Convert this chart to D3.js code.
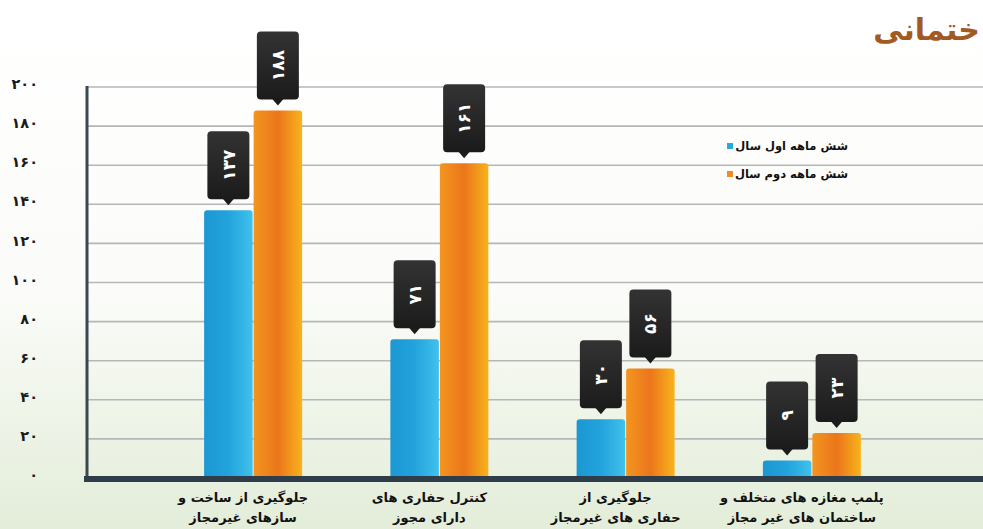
<!DOCTYPE html>
<html>
<head>
<meta charset="utf-8">
<script src="https://cdn.jsdelivr.net/npm/d3@7"></script>
<style>
  body { margin: 0; background: #fff; overflow: hidden; }
  text { font-family: "DejaVu Sans", sans-serif; font-weight: bold; }
</style>
</head>
<body>
<script>
// categories (x labels, two lines each)
var categories = [
  ["جلوگیری از ساخت و", "سازهای غیرمجاز"],
  ["کنترل حفاری های", "دارای مجوز"],
  ["جلوگیری از", "حفاری های غیرمجاز"],
  ["پلمپ مغازه های  متخلف و", "ساختمان های غیر مجاز"]
];
var series = ["شش ماهه اول سال", "شش ماهه دوم سال"];
var firstHalf = [137, 71, 30, 9];
var secondHalf = [188, 161, 56, 23];
var yTicks = [0, 20, 40, 60, 80, 100, 120, 140, 160, 180, 200];
var title = "ختمانی";

// persian digits
function fa(n) {
  return String(n).replace(/\d/g, function(c) { return "۰۱۲۳۴۵۶۷۸۹"[+c]; });
}

var w = 983, h = 529;

var svg = d3.select("body").append("svg")
  .attr("width", w)
  .attr("height", h);

var defs = svg.append("defs");

// background, white on top, light green below
var bg = defs.append("linearGradient").attr("id", "bg")
  .attr("x1", 0).attr("y1", 0).attr("x2", 0).attr("y2", 1);
bg.append("stop").attr("offset", "0%").attr("stop-color", "#ffffff");
bg.append("stop").attr("offset", "55%").attr("stop-color", "#fbfcf9");
bg.append("stop").attr("offset", "100%").attr("stop-color", "#e3edd9");

var blue = defs.append("linearGradient").attr("id", "blue");
blue.append("stop").attr("offset", "0%").attr("stop-color", "#1c97d3");
blue.append("stop").attr("offset", "50%").attr("stop-color", "#22a3dc");
blue.append("stop").attr("offset", "100%").attr("stop-color", "#41c1ec");

var orange = defs.append("linearGradient").attr("id", "orange");
orange.append("stop").attr("offset", "0%").attr("stop-color", "#f3951f");
orange.append("stop").attr("offset", "50%").attr("stop-color", "#eb761b");
orange.append("stop").attr("offset", "100%").attr("stop-color", "#f8b31b");

var tag = defs.append("linearGradient").attr("id", "tag")
  .attr("x1", 0).attr("y1", 0).attr("x2", 0).attr("y2", 1);
tag.append("stop").attr("offset", "0%").attr("stop-color", "#333333");
tag.append("stop").attr("offset", "100%").attr("stop-color", "#1b1b1b");

svg.append("rect").attr("width", w).attr("height", h).attr("fill", "url(#bg)");

var left = 87, right = 983;

// y scale
var y = d3.scaleLinear()
  .domain([0, 200])
  .range([478, 87]);

// groups
var x0 = d3.scaleBand()
  .domain(d3.range(categories.length))
  .range([160, 905]);

var x1 = d3.scaleBand()
  .domain([0, 1])
  .range([-49, 49])
  .paddingInner(0.02);

// grid lines
svg.append("g")
  .selectAll("line")
  .data(yTicks.slice(1))
  .enter()
  .append("line")
  .attr("x1", left).attr("x2", right)
  .attr("y1", d => y(d)).attr("y2", d => y(d))
  .attr("stroke", "#b5b7b6")
  .attr("stroke-width", 1.6);

// y axis labels
var yAxis = d3.axisLeft(y)
  .tickValues(yTicks)
  .tickSize(0)
  .tickFormat(fa);

var ya = svg.append("g")
  .attr("transform", "translate(38,-3)")
  .call(yAxis);
ya.select(".domain").remove();
ya.selectAll("text")
  .attr("x", 0)
  .attr("fill", "#1a1a1a")
  .style("font-size", "14.5px");

// left axis line
svg.append("line")
  .attr("x1", left).attr("x2", left)
  .attr("y1", y(200) - 1).attr("y2", y(0))
  .attr("stroke", "#3b4751")
  .attr("stroke-width", 3);

// legend
var legend = svg.append("g").attr("transform", "translate(727,145)");
var colors = ["#2aa8dc", "#f08a22"];
series.forEach(function(s, i) {
  var g = legend.append("g").attr("transform", "translate(0," + (i * 28) + ")");
  g.append("rect").attr("x", 0).attr("y", -2).attr("width", 6).attr("height", 6)
    .attr("fill", colors[i]);
  g.append("text")
    .attr("x", 121).attr("y", 5)
    .attr("text-anchor", "start")
    .attr("direction", "rtl")
    .attr("fill", "#111")
    .style("font-size", "11.5px")
    .text(s);
});

// bars
var rows = [];
categories.forEach(function(c, i) {
  rows.push({ g: i, s: 0, v: firstHalf[i] });
  rows.push({ g: i, s: 1, v: secondHalf[i] });
});

var bars = svg.append("g");
bars.selectAll("path")
  .data(rows)
  .enter()
  .append("path")
  .attr("d", function(d) {
    var bx = x0(d.g) + x0.bandwidth() / 2 + x1(d.s);
    var bw = x1.bandwidth();
    var top = y(d.v), bot = y(0), r = 3;
    return "M" + bx + "," + bot + "V" + (top + r) +
      "Q" + bx + "," + top + " " + (bx + r) + "," + top +
      "H" + (bx + bw - r) +
      "Q" + (bx + bw) + "," + top + " " + (bx + bw) + "," + (top + r) +
      "V" + bot + "Z";
  })
  .attr("fill", d => d.s === 0 ? "url(#blue)" : "url(#orange)");

// value tags
var tags = svg.append("g").selectAll("g")
  .data(rows)
  .enter()
  .append("g")
  .attr("transform", function(d) {
    var cx = x0(d.g) + x0.bandwidth() / 2 + x1(d.s) + x1.bandwidth() / 2;
    return "translate(" + cx + "," + (y(d.v) - 5) + ")";
  });

tags.append("rect")
  .attr("x", -21).attr("y", -74)
  .attr("width", 42).attr("height", 68)
  .attr("rx", 4)
  .attr("fill", "url(#tag)");

tags.append("path")
  .attr("d", "M-6,-7L0,0L6,-7Z")
  .attr("fill", "#1b1b1b");

tags.append("text")
  .attr("transform", "translate(0,-40) rotate(-90)")
  .attr("text-anchor", "middle")
  .attr("dy", "0.36em")
  .attr("fill", "#fff")
  .style("font-size", "17px")
  .text(d => fa(d.v));

// bottom axis
svg.append("rect")
  .attr("x", 84).attr("y", y(0) - 2)
  .attr("width", right - 84).attr("height", 6)
  .attr("fill", "#2e3d49");

// x labels
var xl = svg.append("g").selectAll("text")
  .data(categories)
  .enter()
  .append("text")
  .attr("x", (d, i) => x0(i) + x0.bandwidth() / 2 - 10)
  .attr("y", 502)
  .attr("text-anchor", "middle")
  .attr("fill", "#111")
  .style("font-size", "13px");
xl.append("tspan").attr("x", (d, i) => x0(i) + x0.bandwidth() / 2 - 10).text(d => d[0]);
xl.append("tspan").attr("x", (d, i) => x0(i) + x0.bandwidth() / 2 - 10).attr("dy", 20).text(d => d[1]);

// title at the top right
svg.append("text")
  .attr("x", 980).attr("y", 40)
  .attr("text-anchor", "end")
  .attr("fill", "#a35a22")
  .style("font-size", "30px")
  .text(title);
</script>
</body>
</html>
